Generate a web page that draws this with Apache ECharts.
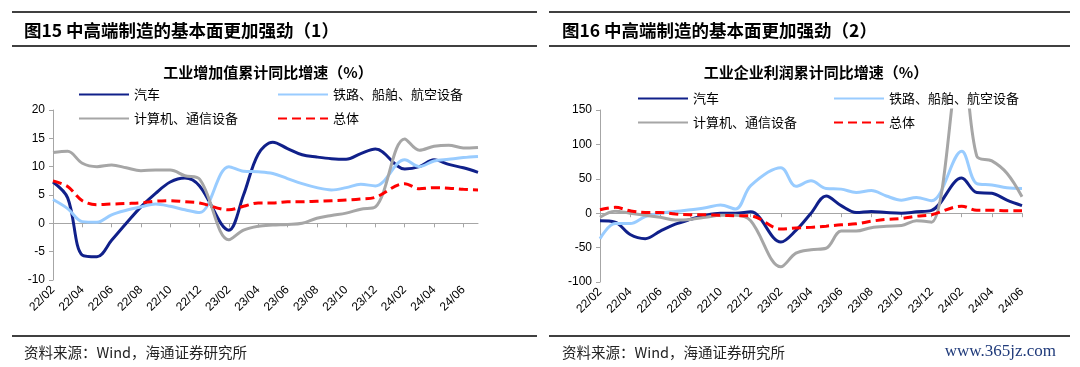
<!DOCTYPE html>
<html>
<head>
<meta charset="utf-8">
<script src="https://cdn.jsdelivr.net/npm/echarts@6/dist/echarts.min.js"></script>
<style>
html,body{margin:0;padding:0;background:#fff;}
#c{width:1080px;height:367px;}
</style>
</head>
<body>
<div id="c"></div>
<script>
// ---- categories (monthly; January has no cumulative data) ----
const leftCats = ['22/02','22/03','22/04','22/05','22/06','22/07','22/08','22/09','22/10','22/11','22/12',
  '23/01','23/02','23/03','23/04','23/05','23/06','23/07','23/08','23/09','23/10','23/11','23/12',
  '24/01','24/02','24/03','24/04','24/05','24/06','24/07'];
const rightCats = ['22/02','22/03','22/04','22/05','22/06','22/07','22/08','22/09','22/10','22/11','22/12',
  '23/01','23/02','23/03','23/04','23/05','23/06','23/07','23/08','23/09','23/10','23/11','23/12',
  '24/01','24/02','24/03','24/04','24/05','24/06'];

const seriesNames = ['汽车','铁路、船舶、航空设备','计算机、通信设备','总体'];

// ---- left: industrial value added, cumulative YoY (%) ----
const L_auto  = [7.3, 4.5, -5.6, -5.9, -3.0, 0.0, 2.9, 5.3, 7.3, 8.0, 6.6, null, -1.2, 5.0, 12.2, 14.3, 13.2, 12.1, 11.7, 11.4, 11.3, 12.3, 13.1, null, 9.6, 10.0, 11.2, 10.4, 9.8, 9.0];
const L_rail  = [4.2, 2.6, 0.3, 0.2, 1.5, 2.3, 2.9, 3.4, 3.0, 2.4, 1.9, null, 10.0, 9.2, 9.1, 8.8, 7.9, 7.0, 6.3, 5.9, 6.3, 6.9, 6.6, null, 11.2, 10.0, 11.0, 11.3, 11.6, 11.8];
const L_comp  = [12.5, 12.7, 10.6, 10.0, 10.3, 9.8, 9.3, 9.4, 9.4, 8.4, 7.8, null, -2.9, -1.2, -0.5, -0.3, -0.2, 0.0, 0.9, 1.4, 1.8, 2.5, 2.9, null, 14.9, 12.9, 13.6, 13.8, 13.3, 13.4];
const L_total = [7.5, 6.5, 4.0, 3.3, 3.4, 3.5, 3.6, 3.9, 4.0, 3.8, 3.6, null, 2.4, 3.0, 3.6, 3.6, 3.8, 3.8, 3.9, 4.0, 4.1, 4.3, 4.6, null, 7.0, 6.1, 6.3, 6.2, 6.0, 5.9];

// ---- right: industrial profits, cumulative YoY (%) ----
const R_auto  = [-11, -13, -31, -37, -26, -16, -9, -3, 0, 0, 2, null, -42, -25, 0, 25, 11, 1, 2.5, 1, 0, 2, 4, null, 51, 30, 29, 19, 11];
const R_rail  = [-37, -15, -15, -5, 0, 2.5, 5, 8, 12, 6, 40, null, 66, 39, 47, 36, 35, 30, 33, 25, 19, 23, 18, null, 90, 43, 41, 37, 36];
const R_comp  = [-6, 3, 0, -3, -6, -10, -9, -6, -3, -3, -11, null, -78, -58, -53, -51, -26, -26, -21, -19, -18, -11, -13, null, 230, 83, 76, 58, 24];
const R_total = [5.0, 8.5, 3.5, 1.0, 1.0, -1.1, -2.1, -2.3, -3.0, -3.6, -4.0, null, -22.9, -21.4, -20.6, -18.8, -16.8, -15.5, -11.7, -9.0, -7.8, -4.4, -2.3, null, 10.2, 4.3, 4.3, 3.4, 3.5];

// ---- texts ----
const leftHeader  = '图15 中高端制造的基本面更加强劲（1）';
const rightHeader = '图16 中高端制造的基本面更加强劲（2）';
const leftTitle   = '工业增加值累计同比增速（%）';
const rightTitle  = '工业企业利润累计同比增速（%）';
const sourceText  = '资料来源：Wind，海通证券研究所';
const watermark   = 'www.365jz.com';

const CJK = '"Noto Sans CJK SC", sans-serif';
const LAT = '"Liberation Sans", Arial, sans-serif';
const colors = ['#10208A', '#99CCFF', '#A6A6A6', '#FF0000'];
const axisGray = '#A6A6A6';

function mkSeries(name, data, idx, gi) {
  const s = {
    name: name, type: 'line', data: data,
    xAxisIndex: gi * 2, yAxisIndex: gi,
    smooth: 0.35, symbol: 'none', connectNulls: true, clip: true,
    lineStyle: { color: colors[idx], width: 3 },
    itemStyle: { color: colors[idx] },
    z: 2 + idx
  };
  if (idx === 3) s.lineStyle.type = [9, 5];
  return s;
}

function xAxes(cats, gi) {
  return [
    { type: 'category', gridIndex: gi, data: cats, boundaryGap: false,
      axisLine: { onZero: true, lineStyle: { color: axisGray, width: 1 } },
      axisTick: { show: true, interval: 1, length: 4, lineStyle: { color: axisGray } },
      axisLabel: { show: false }, splitLine: { show: false } },
    { type: 'category', gridIndex: gi, data: cats, boundaryGap: false, position: 'bottom',
      axisLine: { show: false, onZero: false }, axisTick: { show: false },
      axisLabel: { show: true, interval: 1, rotate: 45, margin: 8,
        fontSize: 12, fontFamily: LAT, color: '#000' },
      splitLine: { show: false } }
  ];
}

function yAxis(gi, min, max, interval) {
  return { type: 'value', gridIndex: gi, min: min, max: max, interval: interval,
    axisLine: { show: true, lineStyle: { color: axisGray, width: 1 } },
    axisTick: { show: true, length: 4, lineStyle: { color: axisGray } },
    axisLabel: { fontSize: 12, fontFamily: LAT, color: '#000', margin: 8 },
    splitLine: { show: false } };
}

function legendItem(name, left, top) {
  return { data: [name], left: left, top: top, orient: 'horizontal',
    itemWidth: 50, itemHeight: 14, selectedMode: false, padding: 0,
    itemStyle: { opacity: 0 },
    textStyle: { fontSize: 13, fontFamily: CJK, color: '#000' } };
}

function hline(x1, x2, y, w) {
  return { type: 'line', shape: { x1: x1, y1: y, x2: x2, y2: y },
    style: { stroke: '#000', lineWidth: w }, silent: true };
}
function txt(text, x, y, font, fill, align) {
  return { type: 'text', x: x, y: y, silent: true,
    style: { text: text, font: font, fill: fill, align: align || 'left', verticalAlign: 'middle' } };
}

const chart = echarts.init(document.getElementById('c'), null, { renderer: 'canvas' });
chart.setOption({
  animation: false,
  backgroundColor: '#fff',
  grid: [
    { left: 53, top: 110, width: 425, height: 170, containLabel: false },
    { left: 600, top: 110, width: 422, height: 172, containLabel: false }
  ],
  xAxis: [].concat(xAxes(leftCats, 0), xAxes(rightCats, 1)),
  yAxis: [yAxis(0, -10, 20, 5), yAxis(1, -100, 150, 50)],
  legend: [
    legendItem(seriesNames[0], 78, 88), legendItem(seriesNames[1], 277, 88),
    legendItem(seriesNames[2], 78, 112), legendItem(seriesNames[3], 277, 112),
    legendItem(seriesNames[0], 637, 92), legendItem(seriesNames[1], 833, 92),
    legendItem(seriesNames[2], 637, 116), legendItem(seriesNames[3], 833, 116)
  ],
  series: [
    mkSeries(seriesNames[0], L_auto, 0, 0),
    mkSeries(seriesNames[1], L_rail, 1, 0),
    mkSeries(seriesNames[2], L_comp, 2, 0),
    mkSeries(seriesNames[3], L_total, 3, 0),
    mkSeries(seriesNames[0], R_auto, 0, 1),
    mkSeries(seriesNames[1], R_rail, 1, 1),
    mkSeries(seriesNames[2], R_comp, 2, 1),
    mkSeries(seriesNames[3], R_total, 3, 1)
  ],
  graphic: [
    hline(12, 537, 12, 1.5), hline(12, 537, 46, 1.5),
    hline(549, 1070, 12, 1.5), hline(549, 1070, 46, 1.5),
    hline(12, 537, 336, 1.5), hline(549, 1070, 336, 1.5),
    txt(leftHeader, 24, 30, 'bold 17.5px ' + CJK, '#000'),
    txt(rightHeader, 562, 30, 'bold 17.5px ' + CJK, '#000'),
    txt(leftTitle, 268, 72, 'bold 15px ' + CJK, '#000', 'center'),
    txt(rightTitle, 816, 72, 'bold 15px ' + CJK, '#000', 'center'),
    txt(sourceText, 24, 352, '14.5px ' + CJK, '#222'),
    txt(sourceText, 562, 352, '14.5px ' + CJK, '#222'),
    txt(watermark, 1056, 352, '17px "Liberation Serif", serif', '#1F3A7A', 'right')
  ]
});
</script>
</body>
</html>
